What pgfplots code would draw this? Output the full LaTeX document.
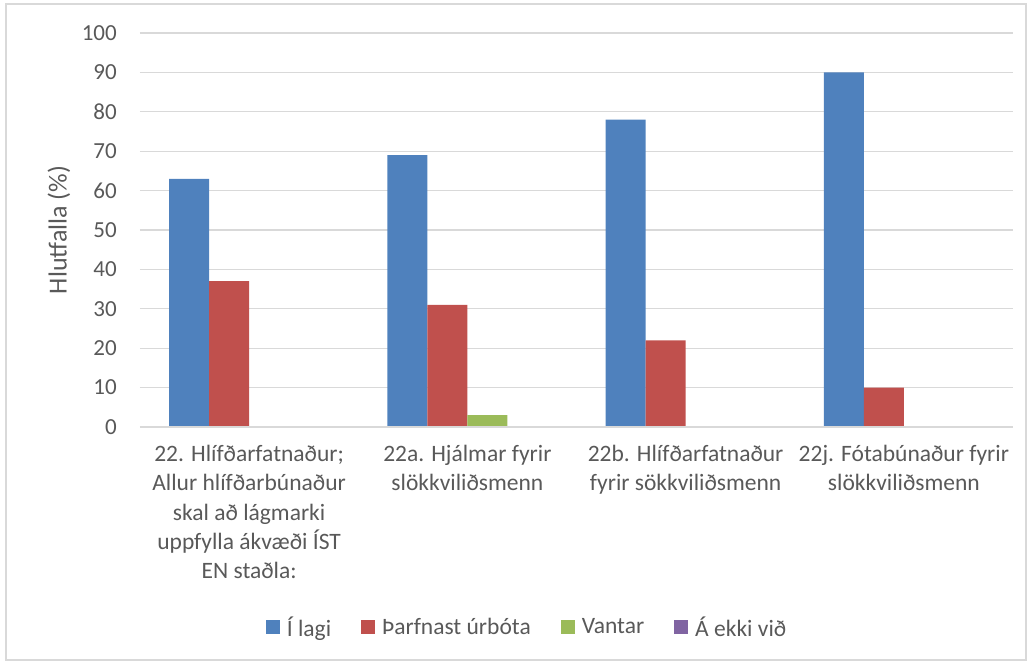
\documentclass[border=0pt]{standalone}
\usepackage{pgfplots}
\pgfplotsset{compat=1.18}
\usepackage{fontspec}
\setmainfont{Carlito}
\definecolor{cblue}{HTML}{4F81BD}
\definecolor{cred}{HTML}{C0504D}
\definecolor{cgreen}{HTML}{9BBB59}
\definecolor{cpurple}{HTML}{8064A2}
\definecolor{gridgray}{HTML}{D9D9D9}
\definecolor{textgray}{HTML}{595959}
\pgfplotsset{sqlegend/.style={legend image code/.code={\fill[##1] (0pt,-7pt) rectangle (14pt,7pt);}}}
\begin{document}
\begin{tikzpicture}[x=1pt,y=1pt]
\path (0,0) rectangle (1028,663);
\draw[color=gridgray, line width=1.2pt] (6,3) rectangle (1026,659);
\begin{axis}[
 at={(140pt,236pt)}, anchor=south west,
 scale only axis, width=873pt, height=394pt,
 ybar=0pt, bar width=40pt,
 xmin=-0.5, xmax=3.5, ymin=0, ymax=100,
 xtick={0,1,2,3},
 xticklabels={{22. Hlífðarfatnaður;\\Allur hlífðarbúnaður\\skal að lágmarki\\uppfylla ákvæði ÍST\\EN staðla:},
   {22a. Hjálmar fyrir\\slökkviliðsmenn},
   {22b. Hlífðarfatnaður\\fyrir sökkviliðsmenn},
   {22j. Fótabúnaður fyrir\\slökkviliðsmenn}},
 ytick={0,10,...,100},
 ymajorgrids, grid style={gridgray, line width=1.2pt},
 axis line style={draw=none},
 major tick length=0pt,
 /pgf/number format/assume math mode=true,
 tick label style={text=textgray, inner sep=0pt},
 yticklabel style={font=\fontsize{23}{28}\selectfont, anchor=east, xshift=-23pt},
 xticklabel style={font=\fontsize{23.5}{29.3}\selectfont, align=center, anchor=north, yshift=-18pt},
 ylabel={Hlutfalla (\%)},
 every axis y label/.style={at={(axis description cs:-0.093,0.5)}, rotate=90, anchor=center, font=\fontsize{26}{30}\selectfont, text=textgray},
 legend columns=4,
 legend style={at={(axis description cs:0.4422,-0.5076)}, anchor=center, draw=none, fill=none,
   font=\fontsize{23.5}{28}\selectfont, text=textgray, nodes={inner sep=0pt},
   /tikz/every odd column/.append style={column sep=7pt},
   /tikz/every even column/.append style={column sep=30pt}},
]
\addplot[fill=cblue, draw=none, sqlegend] coordinates {(0,63) (1,69) (2,78) (3,90)};
\addplot[fill=cred, draw=none, sqlegend] coordinates {(0,37) (1,31) (2,22) (3,10)};
\addplot[fill=cgreen, draw=none, sqlegend] coordinates {(0,0) (1,3) (2,0) (3,0)};
\addplot[fill=cpurple, draw=none, sqlegend] coordinates {(0,0) (1,0) (2,0) (3,0)};
\legend{Í lagi, Þarfnast úrbóta, Vantar, Á ekki við}
\draw[gridgray, line width=1.2pt] (axis cs:-0.5,0) -- (axis cs:3.5,0);
\end{axis}
\end{tikzpicture}
\end{document}
